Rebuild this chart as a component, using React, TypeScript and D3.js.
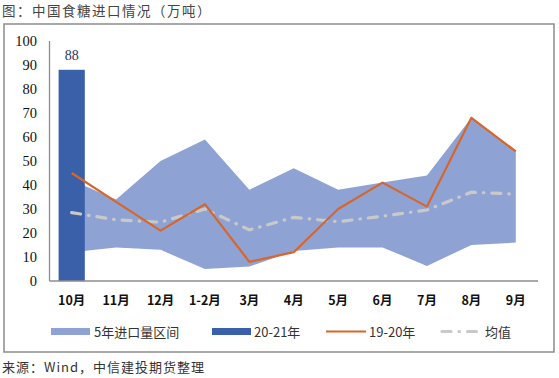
import React from "react";
import * as d3 from "d3";

const categories = ["10月", "11月", "12月", "1-2月", "3月", "4月", "5月", "6月", "7月", "8月", "9月"];
const rangeLow = [12, 14, 13, 5, 6, 12.5, 14, 14, 6.3, 15, 16];
const rangeHigh = [42, 34, 50, 59, 38, 47, 38, 41, 44, 68, 54];
const current = [88];
const prevYear = [45, 33, 21, 32, 8, 12, 30, 41, 31, 68, 54];
const average = [28.5, 25.5, 24.5, 30, 21.3, 26.5, 24.7, 27, 29.6, 37, 36.2];
const yTicks = [0, 10, 20, 30, 40, 50, 60, 70, 80, 90, 100];
const legendLabels = ["5年进口量区间", "20-21年", "19-20年", "均值"];

const W = 559;
const H = 378;
const left = 49.5;
const right = 538;
const top = 41;
const bottom = 281;

const BAND = "#8ea3d3";
const BAR = "#3a60aa";
const ORANGE = "#d8662b";
const GRAY = "#c9c9c9";
const CJK = "'Noto Sans CJK SC', sans-serif";
const SERIF = "'Liberation Serif', 'DejaVu Serif', serif";

export default function App() {
  const x = d3.scaleBand<string>().domain(categories).range([left, right]);
  const y = d3.scaleLinear().domain([0, 100]).range([bottom, top]);
  const cx = (c: string) => (x(c) as number) + x.bandwidth() / 2;

  const area = d3
    .area<number>()
    .x((_, i) => cx(categories[i]))
    .y0((_, i) => y(rangeLow[i]))
    .y1((_, i) => y(rangeHigh[i]));
  const line = d3
    .line<number>()
    .x((_, i) => cx(categories[i]))
    .y((d) => y(d));

  const barW = x.bandwidth() * 0.59;

  return (
    <svg
      width={W}
      height={H}
      style={{ position: "absolute", left: 0, top: 0, background: "#fff" }}
    >
      <text x={2} y={16} fontFamily={CJK} fontSize={13.5} fill="#444" letterSpacing={1.5}>
        图：中国食糖进口情况（万吨）
      </text>
      <rect x={4} y={24} width={550} height={328} fill="none" stroke="#8c8c8c" strokeWidth={1.5} />

      <path d={area(rangeLow) || ""} fill={BAND} />
      {current.map((v, i) => (
        <g key={i}>
          <rect
            x={cx(categories[i]) - barW / 2}
            y={y(v)}
            width={barW}
            height={y(0) - y(v)}
            fill={BAR}
          />
          <text
            x={cx(categories[i])}
            y={y(v) - 10}
            textAnchor="middle"
            fontFamily={SERIF}
            fontSize={14}
            fill="#1f3864"
          >
            {v}
          </text>
        </g>
      ))}
      <path
        d={line(average) || ""}
        fill="none"
        stroke={GRAY}
        strokeWidth={3.2}
        strokeLinecap="round"
        strokeDasharray="9,8,0.5,8"
      />
      <path d={line(prevYear) || ""} fill="none" stroke={ORANGE} strokeWidth={2.2} strokeLinejoin="round" />

      <line x1={left} x2={left} y1={top} y2={bottom} stroke="#8c8c8c" strokeWidth={1.3} />
      <line x1={left} x2={right} y1={bottom} y2={bottom} stroke="#8c8c8c" strokeWidth={1.3} />

      {yTicks.map((t) => (
        <text
          key={t}
          x={37}
          y={y(t) + 5}
          textAnchor="end"
          fontFamily={SERIF}
          fontSize={14.5}
          fill="#111"
        >
          {t}
        </text>
      ))}
      {categories.map((c) => (
        <text
          key={c}
          x={cx(c)}
          y={305}
          textAnchor="middle"
          fontFamily={CJK}
          fontSize={12.5}
          fontWeight="bold"
          fill="#111"
        >
          {c}
        </text>
      ))}

      <g fontFamily={CJK} fontSize={13} fill="#333">
        <rect x={51} y={328} width={39} height={7} fill={BAND} />
        <text x={94} y={336.5}>{legendLabels[0]}</text>
        <rect x={212} y={328} width={39} height={7} fill={BAR} />
        <text x={254} y={336.5}>{legendLabels[1]}</text>
        <line x1={326} x2={366} y1={331.5} y2={331.5} stroke={ORANGE} strokeWidth={2.2} />
        <text x={369} y={336.5}>{legendLabels[2]}</text>
        <line x1={442} x2={481} y1={331.5} y2={331.5} stroke={GRAY} strokeWidth={3.2} strokeLinecap="round" strokeDasharray="9,8,0.5,8" />
        <text x={485} y={336.5}>{legendLabels[3]}</text>
      </g>

      <text x={2} y={372} fontFamily={CJK} fontSize={13} fill="#333" letterSpacing={1}>
        来源：Wind，中信建投期货整理
      </text>
    </svg>
  );
}
